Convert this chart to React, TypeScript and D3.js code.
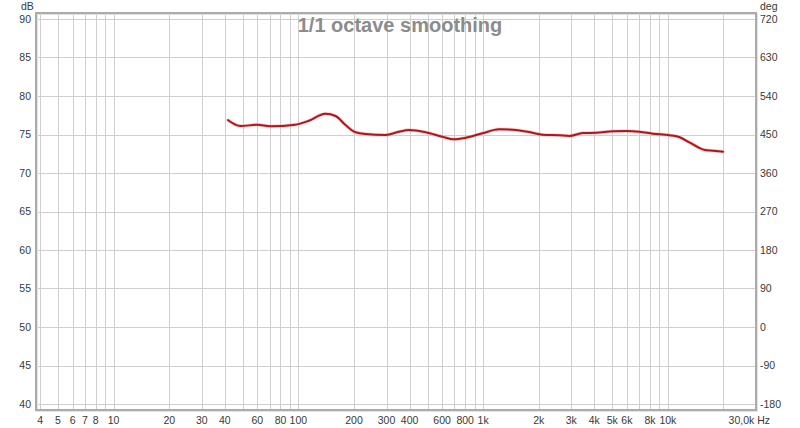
import React from "react";
import * as d3 from "d3";

const freqs = [41.5, 48.5, 60, 70.5, 96, 114, 140, 159, 180, 204, 231, 297, 350, 397, 489, 602, 696, 806, 992, 1222, 1443, 1779, 2100, 2588, 2932, 3464, 4094, 5039, 5957, 7034, 8306, 10234, 11600, 13146, 15847, 17586, 19928];
const spl = [76.88, 76.1, 76.27, 76.06, 76.27, 76.79, 77.7, 77.4, 76.23, 75.29, 75.06, 74.94, 75.36, 75.58, 75.29, 74.71, 74.38, 74.58, 75.16, 75.68, 75.62, 75.32, 74.97, 74.9, 74.81, 75.19, 75.23, 75.42, 75.45, 75.36, 75.1, 74.9, 74.64, 73.94, 72.99, 72.9, 72.77];

const xTickValues = [4, 5, 6, 7, 8, 10, 20, 30, 40, 60, 80, 100, 200, 300, 400, 600, 800, 1000, 2000, 3000, 4000, 5000, 6000, 8000, 10000];
const xTickLabels = ["4", "5", "6", "7", "8", "10", "20", "30", "40", "60", "80", "100", "200", "300", "400", "600", "800", "1k", "2k", "3k", "4k", "5k", "6k", "8k", "10k"];
const xGridValues = [4, 5, 6, 7, 8, 9, 10, 20, 30, 40, 50, 60, 70, 80, 90, 100, 200, 300, 400, 500, 600, 700, 800, 900, 1000, 2000, 3000, 4000, 5000, 6000, 7000, 8000, 9000, 10000, 20000];
const dbTicks = [40, 45, 50, 55, 60, 65, 70, 75, 80, 85, 90];
const degTicks = ["-180", "-90", "0", "90", "180", "270", "360", "450", "540", "630", "720"];
const title = "1/1 octave smoothing";

const W = 800;
const H = 428;
const FONT = "'Liberation Sans', Arial, sans-serif";

export default function App() {
  const x = d3.scaleLog().domain([3.8, 30000]).range([36, 756]);
  const y = d3.scaleLinear().domain([40, 90]).range([404, 19]);
  const pad = 6;
  const top = y(90) - pad;
  const bottom = y(40) + pad;
  const left = x.range()[0];
  const right = x.range()[1];

  const line = d3
    .line<number>()
    .x((_, i) => x(freqs[i]))
    .y((d) => y(d))
    .curve(d3.curveMonotoneX);

  const crisp = (v: number) => Math.round(v) + 0.5;
  const labelSize = 10.5;
  const labelColor = "#383838";

  return (
    <svg
      width={W}
      height={H}
      style={{ position: "absolute", left: 0, top: 0, background: "#fff" }}
      fontFamily={FONT}
    >
      <rect x={0} y={0} width={W} height={H} fill="#fff" />
      {xGridValues.map((f) => (
        <line
          key={"gx" + f}
          x1={crisp(x(f))}
          x2={crisp(x(f))}
          y1={top}
          y2={bottom}
          stroke="#cfcfcf"
          strokeWidth={1}
        />
      ))}
      {dbTicks.map((v) => (
        <line
          key={"gy" + v}
          x1={left}
          x2={right}
          y1={crisp(y(v))}
          y2={crisp(y(v))}
          stroke="#cfcfcf"
          strokeWidth={1}
        />
      ))}
      <text
        x={400}
        y={32}
        textAnchor="middle"
        fontSize={20}
        fontWeight="bold"
        fill="#8c8c8c"
      >
        {title}
      </text>
      <path
        d={line(spl) || ""}
        fill="none"
        stroke="#e8a0a0"
        strokeOpacity={0.5}
        strokeWidth={3.5}
        strokeLinejoin="round"
      />
      <path
        d={line(spl) || ""}
        fill="none"
        stroke="#b0161c"
        strokeWidth={2}
        strokeLinejoin="round"
        strokeLinecap="round"
      />
      <rect
        x={left + 1}
        y={top + 1}
        width={right - left}
        height={bottom - top}
        fill="none"
        stroke="#e2e2e2"
        strokeWidth={2}
      />
      <rect
        x={left}
        y={top}
        width={right - left}
        height={bottom - top}
        fill="none"
        stroke="#ababab"
        strokeWidth={2}
      />
      {dbTicks.map((v) => (
        <text
          key={"ly" + v}
          x={31}
          y={y(v) + 3.7}
          textAnchor="end"
          fontSize={labelSize}
          fill={labelColor}
        >
          {v}
        </text>
      ))}
      <text x={21} y={10} fontSize={labelSize} fill={labelColor}>
        dB
      </text>
      {dbTicks.map((v, i) => (
        <text
          key={"ry" + v}
          x={760}
          y={y(v) + 3.7}
          textAnchor="start"
          fontSize={labelSize}
          fill={labelColor}
        >
          {degTicks[i]}
        </text>
      ))}
      <text x={760} y={10} fontSize={labelSize} fill={labelColor}>
        deg
      </text>
      {xTickValues.map((f, i) => (
        <text
          key={"lx" + f}
          x={x(f)}
          y={424}
          textAnchor="middle"
          fontSize={labelSize}
          fill={labelColor}
        >
          {xTickLabels[i]}
        </text>
      ))}
      <text x={x(30000) + 14} y={424} textAnchor="end" fontSize={labelSize} fill={labelColor}>
        30,0k Hz
      </text>
    </svg>
  );
}
